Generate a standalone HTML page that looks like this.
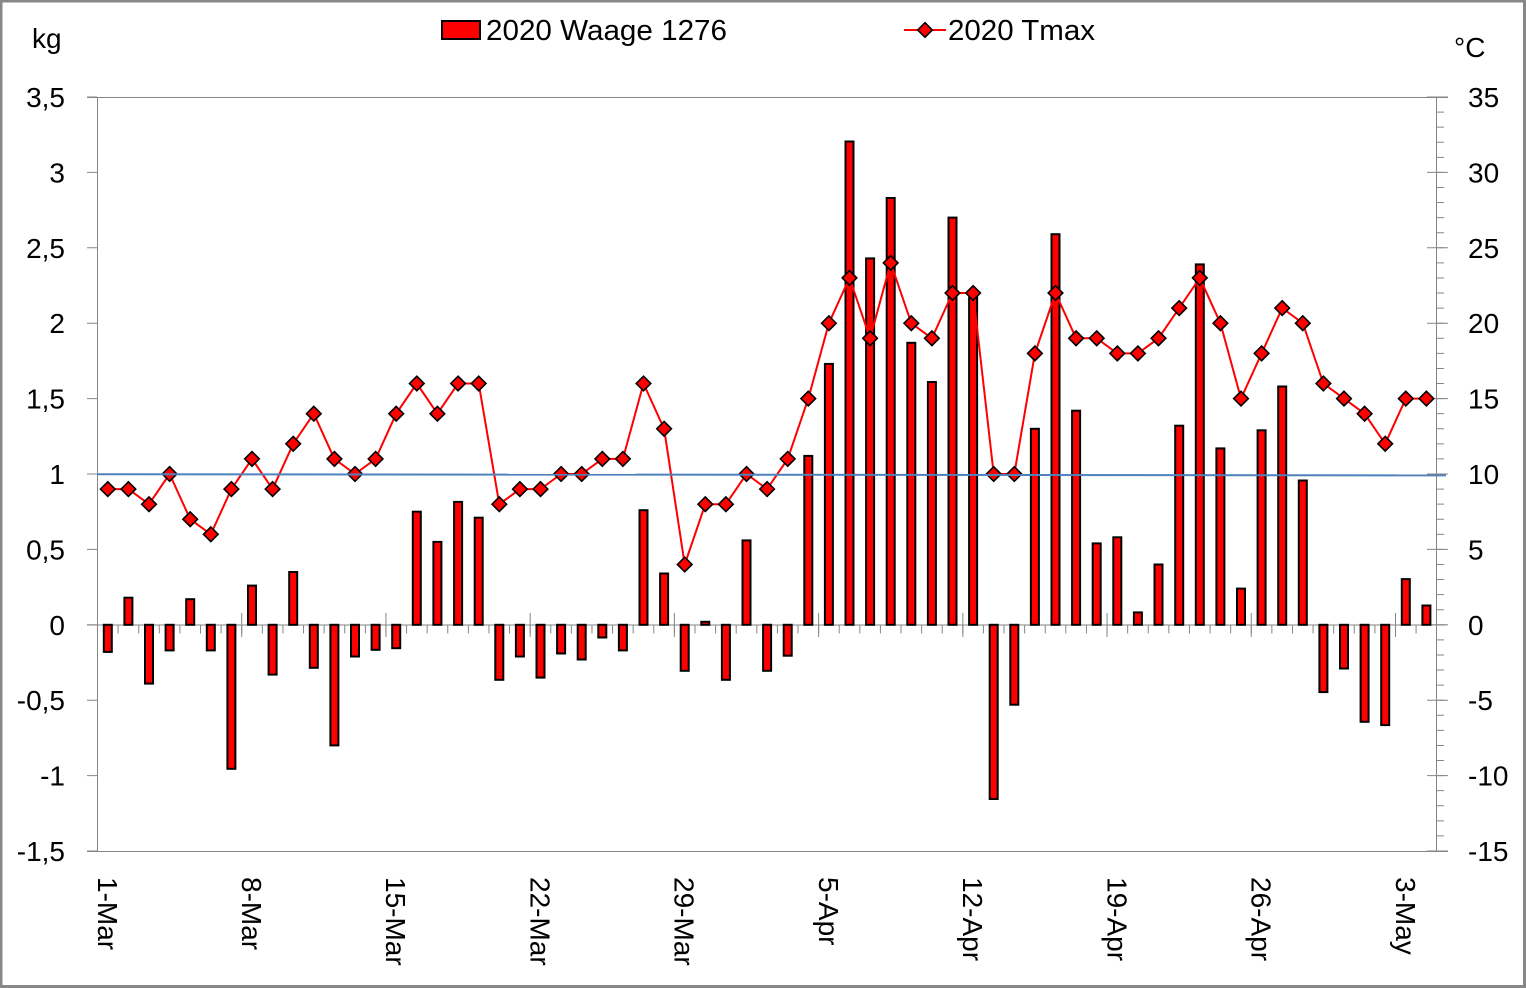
<!DOCTYPE html>
<html><head><meta charset="utf-8"><style>
html,body{margin:0;padding:0;background:#fff;}
svg{display:block;}
text{font-family:"Liberation Sans",Arial,sans-serif;fill:#000;}
</style></head><body>
<svg width="1526" height="988" viewBox="0 0 1526 988" xmlns="http://www.w3.org/2000/svg">
<defs>
<path id="dm" d="M0,-7.3 L7.3,0 L0,7.3 L-7.3,0Z" fill="#ff0000" stroke="#000" stroke-width="1.6"/>
</defs>
<rect x="0" y="0" width="1526" height="988" fill="#fff"/>
<rect x="1" y="1" width="1523.5" height="985.5" fill="none" stroke="#878787" stroke-width="3"/>
<g stroke="#868686" stroke-width="1" fill="none">
<line x1="87" y1="97.5" x2="1448" y2="97.5"/>
<line x1="87" y1="851.5" x2="1448" y2="851.5"/>
<line x1="97.5" y1="97" x2="97.5" y2="851"/>
<line x1="1436.5" y1="97" x2="1436.5" y2="851"/>
<line x1="87" y1="625" x2="1446" y2="625"/>
<line x1="92" y1="96.5" x2="92" y2="853" stroke-width="10" stroke-dasharray="1 74.4"/>
<line x1="1437.5" y1="96.5" x2="1437.5" y2="853" stroke-width="21" stroke-dasharray="1 74.4"/>
<line x1="1440.5" y1="96.5" x2="1440.5" y2="853" stroke-width="7" stroke-dasharray="1 14.08"/>
<line x1="97" y1="629.5" x2="1437" y2="629.5" stroke-width="8" stroke-dasharray="1 19.603"/>
<line x1="97" y1="625" x2="1437" y2="625" stroke-width="24" stroke-dasharray="1 143.221"/>
</g>
<g font-size="28" text-anchor="end">
<text x="65" y="107">3,5</text>
<text x="65" y="182.4">3</text>
<text x="65" y="257.8">2,5</text>
<text x="65" y="333.2">2</text>
<text x="65" y="408.6">1,5</text>
<text x="65" y="484">1</text>
<text x="65" y="559.4">0,5</text>
<text x="65" y="634.8">0</text>
<text x="65" y="710.2">-0,5</text>
<text x="65" y="785.6">-1</text>
<text x="65" y="861">-1,5</text>
</g>
<g font-size="28" text-anchor="start">
<text x="1468" y="107">35</text>
<text x="1468" y="182.4">30</text>
<text x="1468" y="257.8">25</text>
<text x="1468" y="333.2">20</text>
<text x="1468" y="408.6">15</text>
<text x="1468" y="484">10</text>
<text x="1468" y="559.4">5</text>
<text x="1468" y="634.8">0</text>
<text x="1468" y="710.2">-5</text>
<text x="1468" y="785.6">-10</text>
<text x="1468" y="861">-15</text>
</g>
<text x="32" y="48" font-size="28">kg</text>
<text x="1454" y="57" font-size="28">°C</text>
<g font-size="28">
<g transform="translate(107.8,877) rotate(90)"><text x="0" y="10">1-Mar</text></g>
<g transform="translate(252.0,877) rotate(90)"><text x="0" y="10">8-Mar</text></g>
<g transform="translate(396.2,877) rotate(90)"><text x="0" y="10">15-Mar</text></g>
<g transform="translate(540.5,877) rotate(90)"><text x="0" y="10">22-Mar</text></g>
<g transform="translate(684.7,877) rotate(90)"><text x="0" y="10">29-Mar</text></g>
<g transform="translate(828.9,877) rotate(90)"><text x="0" y="10">5-Apr</text></g>
<g transform="translate(973.1,877) rotate(90)"><text x="0" y="10">12-Apr</text></g>
<g transform="translate(1117.3,877) rotate(90)"><text x="0" y="10">19-Apr</text></g>
<g transform="translate(1261.6,877) rotate(90)"><text x="0" y="10">26-Apr</text></g>
<g transform="translate(1405.8,877) rotate(90)"><text x="0" y="10">3-May</text></g>
</g>
<g fill="#ff0000" stroke="#000" stroke-width="2">
<rect x="103.8" y="624.8" width="8" height="27.1"/>
<rect x="124.4" y="597.7" width="8" height="27.1"/>
<rect x="145.0" y="624.8" width="8" height="58.8"/>
<rect x="165.6" y="624.8" width="8" height="25.6"/>
<rect x="186.2" y="599.2" width="8" height="25.6"/>
<rect x="206.8" y="624.8" width="8" height="25.6"/>
<rect x="227.4" y="624.8" width="8" height="144.0"/>
<rect x="248.0" y="585.6" width="8" height="39.2"/>
<rect x="268.6" y="624.8" width="8" height="49.8"/>
<rect x="289.2" y="572.0" width="8" height="52.8"/>
<rect x="309.8" y="624.8" width="8" height="43.0"/>
<rect x="330.4" y="624.8" width="8" height="120.6"/>
<rect x="351.0" y="624.8" width="8" height="31.7"/>
<rect x="371.6" y="624.8" width="8" height="25.0"/>
<rect x="392.2" y="624.8" width="8" height="23.4"/>
<rect x="412.8" y="511.7" width="8" height="113.1"/>
<rect x="433.4" y="541.9" width="8" height="82.9"/>
<rect x="454.1" y="501.9" width="8" height="122.9"/>
<rect x="474.7" y="517.7" width="8" height="107.1"/>
<rect x="495.3" y="624.8" width="8" height="55.0"/>
<rect x="515.9" y="624.8" width="8" height="31.7"/>
<rect x="536.5" y="624.8" width="8" height="52.8"/>
<rect x="557.1" y="624.8" width="8" height="28.7"/>
<rect x="577.7" y="624.8" width="8" height="34.7"/>
<rect x="598.3" y="624.8" width="8" height="12.7"/>
<rect x="618.9" y="624.8" width="8" height="25.6"/>
<rect x="639.5" y="510.2" width="8" height="114.6"/>
<rect x="660.1" y="573.5" width="8" height="51.3"/>
<rect x="680.7" y="624.8" width="8" height="46.0"/>
<rect x="701.3" y="621.8" width="8" height="3.0"/>
<rect x="721.9" y="624.8" width="8" height="55.0"/>
<rect x="742.5" y="540.4" width="8" height="84.4"/>
<rect x="763.1" y="624.8" width="8" height="46.0"/>
<rect x="783.7" y="624.8" width="8" height="30.9"/>
<rect x="804.3" y="455.9" width="8" height="168.9"/>
<rect x="824.9" y="363.9" width="8" height="260.9"/>
<rect x="845.5" y="141.5" width="8" height="483.3"/>
<rect x="866.1" y="258.4" width="8" height="366.4"/>
<rect x="886.7" y="198.0" width="8" height="426.8"/>
<rect x="907.3" y="342.8" width="8" height="282.0"/>
<rect x="927.9" y="382.0" width="8" height="242.8"/>
<rect x="948.5" y="217.6" width="8" height="407.2"/>
<rect x="969.1" y="293.0" width="8" height="331.8"/>
<rect x="989.7" y="624.8" width="8" height="174.2"/>
<rect x="1010.3" y="624.8" width="8" height="79.9"/>
<rect x="1030.9" y="428.8" width="8" height="196.0"/>
<rect x="1051.5" y="234.2" width="8" height="390.6"/>
<rect x="1072.1" y="410.7" width="8" height="214.1"/>
<rect x="1092.7" y="543.4" width="8" height="81.4"/>
<rect x="1113.3" y="537.3" width="8" height="87.5"/>
<rect x="1133.9" y="612.4" width="8" height="12.4"/>
<rect x="1154.5" y="564.5" width="8" height="60.3"/>
<rect x="1175.2" y="425.7" width="8" height="199.1"/>
<rect x="1195.8" y="264.4" width="8" height="360.4"/>
<rect x="1216.4" y="448.4" width="8" height="176.4"/>
<rect x="1237.0" y="588.6" width="8" height="36.2"/>
<rect x="1257.6" y="430.3" width="8" height="194.5"/>
<rect x="1278.2" y="386.5" width="8" height="238.3"/>
<rect x="1298.8" y="480.5" width="8" height="144.3"/>
<rect x="1319.4" y="624.8" width="8" height="67.3"/>
<rect x="1340.0" y="624.8" width="8" height="43.7"/>
<rect x="1360.6" y="624.8" width="8" height="97.0"/>
<rect x="1381.2" y="624.8" width="8" height="100.3"/>
<rect x="1401.8" y="579.1" width="8" height="45.7"/>
<rect x="1422.4" y="605.5" width="8" height="19.3"/>
</g>
<polyline fill="none" stroke="#ff0000" stroke-width="2" stroke-linejoin="round" points="107.8,489.1 128.4,489.1 149.0,504.2 169.6,474.0 190.2,519.2 210.8,534.3 231.4,489.1 252.0,458.9 272.6,489.1 293.2,443.8 313.8,413.7 334.4,458.9 355.0,474.0 375.6,458.9 396.2,413.7 416.8,383.5 437.4,413.7 458.1,383.5 478.7,383.5 499.3,504.2 519.9,489.1 540.5,489.1 561.1,474.0 581.7,474.0 602.3,458.9 622.9,458.9 643.5,383.5 664.1,428.8 684.7,564.5 705.3,504.2 725.9,504.2 746.5,474.0 767.1,489.1 787.7,458.9 808.3,398.6 828.9,323.2 849.5,277.9 870.1,338.3 890.7,262.9 911.3,323.2 931.9,338.3 952.5,293.0 973.1,293.0 993.7,474.0 1014.3,474.0 1034.9,353.4 1055.5,293.0 1076.1,338.3 1096.7,338.3 1117.3,353.4 1137.9,353.4 1158.5,338.3 1179.2,308.1 1199.8,277.9 1220.4,323.2 1241.0,398.6 1261.6,353.4 1282.2,308.1 1302.8,323.2 1323.4,383.5 1344.0,398.6 1364.6,413.7 1385.2,443.8 1405.8,398.6 1426.4,398.6"/>
<g>
<use href="#dm" x="107.8" y="489.1"/>
<use href="#dm" x="128.4" y="489.1"/>
<use href="#dm" x="149.0" y="504.2"/>
<use href="#dm" x="169.6" y="474.0"/>
<use href="#dm" x="190.2" y="519.2"/>
<use href="#dm" x="210.8" y="534.3"/>
<use href="#dm" x="231.4" y="489.1"/>
<use href="#dm" x="252.0" y="458.9"/>
<use href="#dm" x="272.6" y="489.1"/>
<use href="#dm" x="293.2" y="443.8"/>
<use href="#dm" x="313.8" y="413.7"/>
<use href="#dm" x="334.4" y="458.9"/>
<use href="#dm" x="355.0" y="474.0"/>
<use href="#dm" x="375.6" y="458.9"/>
<use href="#dm" x="396.2" y="413.7"/>
<use href="#dm" x="416.8" y="383.5"/>
<use href="#dm" x="437.4" y="413.7"/>
<use href="#dm" x="458.1" y="383.5"/>
<use href="#dm" x="478.7" y="383.5"/>
<use href="#dm" x="499.3" y="504.2"/>
<use href="#dm" x="519.9" y="489.1"/>
<use href="#dm" x="540.5" y="489.1"/>
<use href="#dm" x="561.1" y="474.0"/>
<use href="#dm" x="581.7" y="474.0"/>
<use href="#dm" x="602.3" y="458.9"/>
<use href="#dm" x="622.9" y="458.9"/>
<use href="#dm" x="643.5" y="383.5"/>
<use href="#dm" x="664.1" y="428.8"/>
<use href="#dm" x="684.7" y="564.5"/>
<use href="#dm" x="705.3" y="504.2"/>
<use href="#dm" x="725.9" y="504.2"/>
<use href="#dm" x="746.5" y="474.0"/>
<use href="#dm" x="767.1" y="489.1"/>
<use href="#dm" x="787.7" y="458.9"/>
<use href="#dm" x="808.3" y="398.6"/>
<use href="#dm" x="828.9" y="323.2"/>
<use href="#dm" x="849.5" y="277.9"/>
<use href="#dm" x="870.1" y="338.3"/>
<use href="#dm" x="890.7" y="262.9"/>
<use href="#dm" x="911.3" y="323.2"/>
<use href="#dm" x="931.9" y="338.3"/>
<use href="#dm" x="952.5" y="293.0"/>
<use href="#dm" x="973.1" y="293.0"/>
<use href="#dm" x="993.7" y="474.0"/>
<use href="#dm" x="1014.3" y="474.0"/>
<use href="#dm" x="1034.9" y="353.4"/>
<use href="#dm" x="1055.5" y="293.0"/>
<use href="#dm" x="1076.1" y="338.3"/>
<use href="#dm" x="1096.7" y="338.3"/>
<use href="#dm" x="1117.3" y="353.4"/>
<use href="#dm" x="1137.9" y="353.4"/>
<use href="#dm" x="1158.5" y="338.3"/>
<use href="#dm" x="1179.2" y="308.1"/>
<use href="#dm" x="1199.8" y="277.9"/>
<use href="#dm" x="1220.4" y="323.2"/>
<use href="#dm" x="1241.0" y="398.6"/>
<use href="#dm" x="1261.6" y="353.4"/>
<use href="#dm" x="1282.2" y="308.1"/>
<use href="#dm" x="1302.8" y="323.2"/>
<use href="#dm" x="1323.4" y="383.5"/>
<use href="#dm" x="1344.0" y="398.6"/>
<use href="#dm" x="1364.6" y="413.7"/>
<use href="#dm" x="1385.2" y="443.8"/>
<use href="#dm" x="1405.8" y="398.6"/>
<use href="#dm" x="1426.4" y="398.6"/>
</g>
<line x1="97" y1="474.2" x2="1446" y2="475.4" stroke="#4f81bd" stroke-width="2"/>
<rect x="442" y="21" width="38" height="18" fill="#ff0000" stroke="#000" stroke-width="2"/>
<text x="486" y="40" font-size="29" textLength="241" lengthAdjust="spacingAndGlyphs">2020 Waage 1276</text>
<line x1="904" y1="30" x2="946" y2="30" stroke="#ff0000" stroke-width="2"/>
<use href="#dm" x="925" y="30"/>
<text x="948" y="40" font-size="29" textLength="147" lengthAdjust="spacingAndGlyphs">2020 Tmax</text>
</svg>
</body></html>
